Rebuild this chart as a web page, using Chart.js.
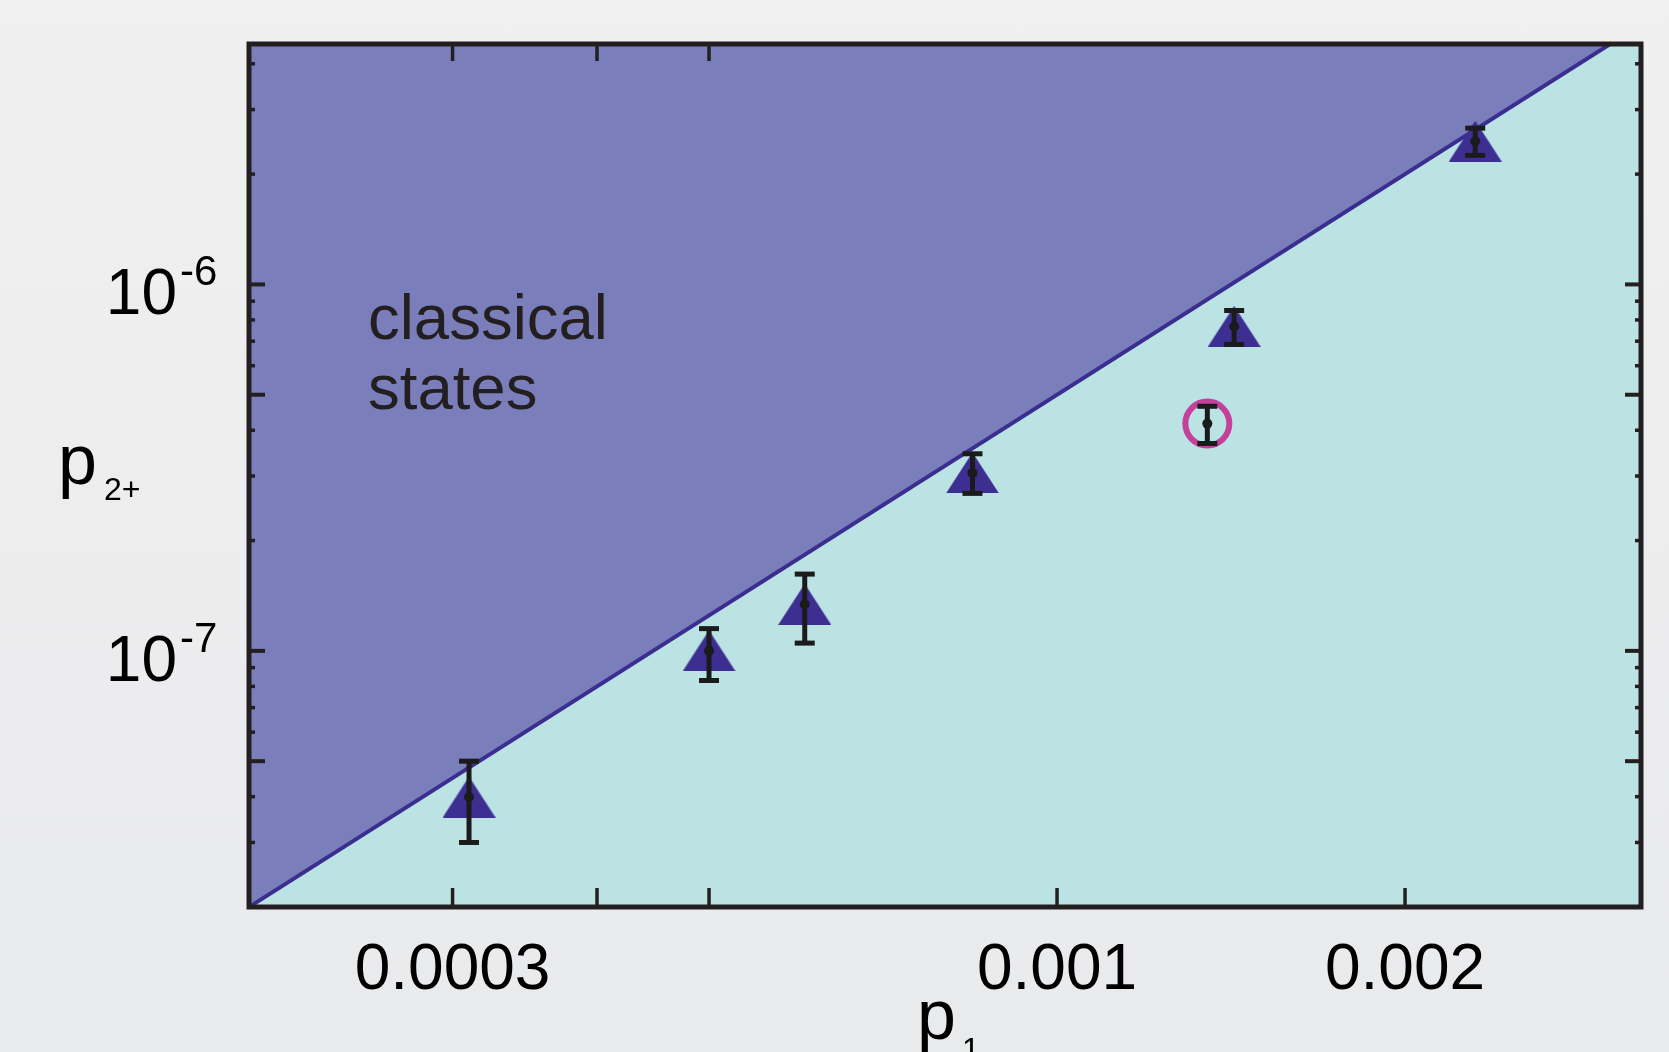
<!DOCTYPE html>
<html><head><meta charset="utf-8">
<script src="https://cdn.jsdelivr.net/npm/chart.js"></script>
<style>
html,body{margin:0;padding:0;}
body{background:linear-gradient(#f0f0f0,#e9eaec);width:1669px;height:1052px;overflow:hidden;}
#wrap{width:1669px;height:1052px;position:relative;}
</style></head><body>
<div id="wrap"><canvas id="c"></canvas></div>
<script>
// ---- data ----
const p1Values = [0.000310, 0.000500, 0.000605, 0.000845, 0.001423, 0.002300];
const p2Values = [3.99e-8, 1.00e-7, 1.34e-7, 3.06e-7, 7.68e-7, 2.46e-6];
const p2Low    = [3.00e-8, 8.30e-8, 1.05e-7, 2.69e-7, 6.86e-7, 2.25e-6];
const p2High   = [5.00e-8, 1.15e-7, 1.62e-7, 3.45e-7, 8.49e-7, 2.67e-6];
// circled measurement
const circP1 = [0.001349];
const circP2 = [4.17e-7];
const circLow = [3.68e-7];
const circHigh = [4.65e-7];
// classical boundary line endpoints
const boundP1 = [0.0002, 0.0032];
const boundP2 = [2.0e-8, 5.12e-6];
// axes
const xMin = 0.0002, xMax = 0.0032, yMin = 2.0e-8, yMax = 4.53e-6;
const xTickValues = [0.0003, 0.0004, 0.0005, 0.001, 0.002];
const xTickLabels = ['0.0003', '', '', '0.001', '0.002'];
const xTopTickValues = [0.0003, 0.0004, 0.0005];
const yTickValues = [1e-7, 1e-6];
const yTickBase = ['10', '10'];
const yTickExp = ['-7', '-6'];
const yLongTicks = [5e-8, 1e-7, 5e-7, 1e-6];
const yShortTicks = [3e-8, 4e-8, 6e-8, 7e-8, 8e-8, 9e-8, 2e-7, 3e-7, 4e-7, 6e-7, 7e-7, 8e-7, 9e-7, 2e-6, 3e-6, 4e-6];
const regionLabel = ['classical', 'states'];
const xTitle = ['p', '1'];
const yTitle = ['p', '2+'];

const FONT = '"Liberation Sans", Arial, sans-serif';
const INK = '#231f20';

function triangleImg(w, h, color) {
  const c = document.createElement('canvas');
  c.width = w; c.height = h;
  const g = c.getContext('2d');
  g.fillStyle = color;
  g.beginPath(); g.moveTo(w / 2, 0); g.lineTo(w, h); g.lineTo(0, h); g.closePath(); g.fill();
  return c;
}
const tri = triangleImg(53, 41, '#3d2f92');

const pts = (xs, ys) => xs.map((x, i) => ({x: x, y: ys[i]}));
const allX = p1Values.concat(circP1), allLo = p2Low.concat(circLow), allHi = p2High.concat(circHigh);

const errorSets = allX.map((x, i) => ({
  type: 'line', order: 1,
  data: [{x: x, y: allLo[i]}, {x: x, y: allHi[i]}],
  borderColor: '#1b1b1b', borderWidth: 5,
  pointStyle: 'line', pointRadius: 10, pointBorderWidth: 5, pointBorderColor: '#1b1b1b',
  pointHoverRadius: 10, fill: false
}));

const decor = {
  id: 'decor',
  afterDatasetsDraw(chart) {
    const {ctx, chartArea: a, scales: {x, y}} = chart;
    ctx.save();
    ctx.strokeStyle = INK;
    const seg = (x1, y1, x2, y2) => { ctx.beginPath(); ctx.moveTo(x1, y1); ctx.lineTo(x2, y2); ctx.stroke(); };
    ctx.lineWidth = 3.5;
    xTickValues.forEach(v => { const px = x.getPixelForValue(v); seg(px, a.bottom, px, a.bottom - 19); });
    xTopTickValues.forEach(v => { const px = x.getPixelForValue(v); seg(px, a.top, px, a.top + 17); });
    ctx.lineWidth = 4;
    yLongTicks.forEach(v => { const py = y.getPixelForValue(v); seg(a.left, py, a.left + 16, py); seg(a.right, py, a.right - 16, py); });
    ctx.lineWidth = 3.5;
    yShortTicks.forEach(v => { const py = y.getPixelForValue(v); seg(a.left, py, a.left + 6, py); seg(a.right, py, a.right - 6, py); });
    ctx.lineWidth = 5;
    ctx.strokeRect(a.left, a.top, a.right - a.left, a.bottom - a.top);
    ctx.restore();
  },
  afterDraw(chart) {
    const {ctx, chartArea: a, scales: {x, y}} = chart;
    ctx.save();
    ctx.fillStyle = '#000';
    ctx.textBaseline = 'alphabetic';
    // y tick labels with superscripts
    yTickValues.forEach((v, i) => {
      const py = y.getPixelForValue(v);
      ctx.font = '64px ' + FONT; ctx.textAlign = 'right';
      ctx.fillText(yTickBase[i], 177, py + 30);
      ctx.font = '42px ' + FONT; ctx.textAlign = 'left';
      ctx.fillText(yTickExp[i], 180, py + 1);
    });
    // region label
    ctx.fillStyle = INK;
    ctx.font = '63.5px ' + FONT; ctx.textAlign = 'left';
    ctx.fillText(regionLabel[0], 368, 339);
    ctx.fillText(regionLabel[1], 368, 409);
    // axis titles
    ctx.fillStyle = '#000';
    ctx.font = '70px ' + FONT;
    ctx.fillText(yTitle[0], 58, 484);
    ctx.font = '32px ' + FONT;
    ctx.fillText(yTitle[1], 104, 500);
    ctx.font = '70px ' + FONT;
    ctx.fillText(xTitle[0], 917, 1039);
    ctx.font = '32px ' + FONT;
    ctx.fillText(xTitle[1], 962, 1060);
    ctx.restore();
  }
};

new Chart(document.getElementById('c'), {
  type: 'scatter',
  data: {
    datasets: [
      { // dots
        order: 0, data: pts(allX, p2Values.concat(circP2)),
        pointStyle: 'circle', pointRadius: 5, pointBackgroundColor: '#1b1b1b', pointBorderWidth: 0, pointHoverRadius: 5
      },
      ...errorSets,
      { // triangles
        order: 2, data: pts(p1Values, p2Values),
        pointStyle: tri, pointRadius: 26, pointHoverRadius: 26
      },
      { // circled point
        order: 2, data: pts(circP1, circP2),
        pointStyle: 'circle', pointRadius: 22, pointBorderWidth: 6, pointBorderColor: '#c4409a',
        pointBackgroundColor: 'rgba(0,0,0,0)', pointHoverRadius: 22
      },
      { // boundary with classical region above
        type: 'line', order: 3, data: pts(boundP1, boundP2),
        borderColor: '#3b2e90', borderWidth: 4, pointRadius: 0, pointHoverRadius: 0,
        fill: 'end', backgroundColor: '#7a7fbb'
      },
      { // non-classical region below
        type: 'line', order: 4, data: pts(boundP1, boundP2),
        borderWidth: 0, borderColor: 'rgba(0,0,0,0)', pointRadius: 0, pointHoverRadius: 0,
        fill: 'start', backgroundColor: '#bbe3e3'
      }
    ]
  },
  options: {
    responsive: true, maintainAspectRatio: false, animation: false,
    events: [],
    layout: {padding: {left: 0, top: 44, right: 25, bottom: 0}},
    plugins: {legend: {display: false}, tooltip: {enabled: false}},
    scales: {
      x: {
        type: 'logarithmic', min: xMin, max: xMax,
        afterBuildTicks: s => { s.ticks = xTickValues.map(v => ({value: v})); },
        afterFit: s => { s.height = 145; },
        grid: {display: false}, border: {display: false},
        ticks: {
          autoSkip: false, maxRotation: 0, padding: 18, color: '#000',
          font: {family: FONT, size: 64},
          callback: (v, i) => xTickLabels[i]
        }
      },
      y: {
        type: 'logarithmic', min: yMin, max: yMax,
        afterBuildTicks: s => { s.ticks = yTickValues.map(v => ({value: v})); },
        afterFit: s => { s.width = 249; },
        grid: {display: false}, border: {display: false},
        ticks: {display: false}
      }
    }
  },
  plugins: [decor]
});
</script>
</body></html>
